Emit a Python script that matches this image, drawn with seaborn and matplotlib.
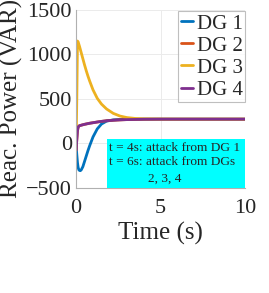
import matplotlib.pyplot as plt
import matplotlib.patches as mpatches
import seaborn as sns
import pandas as pd

# time axis (s) and reactive power of each DG (VAR)
t = [0, 0.04, 0.08, 0.12, 0.16, 0.2, 0.25, 0.3, 0.4, 0.5, 0.6, 0.7, 0.8, 1.0, 1.25,
     1.5, 1.8, 2.2, 2.6, 3.0, 3.5, 4.0, 5.0, 6.0, 8.0, 10.0]
dg1 = [-30, -130, -220, -275, -300, -308, -310, -302, -265, -205, -145, -85, -30, 70, 160,
       215, 248, 262, 267, 269, 270, 270, 270, 270, 270, 270]
dg2 = [-80, 40, 140, 180, 192, 196, 199, 202, 207, 212, 216, 220, 224, 230, 238,
       245, 252, 258, 262, 265, 267, 269, 270, 270, 270, 270]
dg3 = [0, 500, 1150, 1140, 1115, 1090, 1055, 1020, 950, 880, 815, 755, 700, 600, 505,
       440, 385, 335, 305, 288, 278, 274, 271, 270, 270, 270]
dg4 = [-80, 40, 140, 180, 192, 196, 199, 202, 207, 212, 216, 220, 224, 230, 238,
       245, 252, 258, 262, 265, 267, 269, 270, 270, 270, 270]

names = ['DG 1', 'DG 2', 'DG 3', 'DG 4']
colors = ['#0072BD', '#D95319', '#EDB120', '#7E2F8E']

df = pd.DataFrame({'Time': t * 4,
                   'Power': dg1 + dg2 + dg3 + dg4,
                   'DG': [n for n in names for _ in t]})

sns.set_style('white')
plt.rcParams['font.family'] = ['Liberation Serif', 'DejaVu Serif']

fig = plt.figure(figsize=(2.69, 2.93), dpi=100)
ax = fig.add_axes([0.283, 0.36, 0.628, 0.606])

sns.lineplot(data=df, x='Time', y='Power', hue='DG', palette=colors,
             linewidth=2, ax=ax, sort=False)

ax.set_xlim(0, 10)
ax.set_ylim(-500, 1500)
ax.set_xticks([0, 5, 10])
ax.set_yticks([-500, 0, 500, 1000, 1500])
ax.grid(True, color='#ebebeb', linewidth=0.7)
ax.tick_params(labelsize=16, length=0, colors='#262626')
ax.tick_params(axis='x', pad=8)
ax.tick_params(axis='y', pad=3)
ax.set_xlabel('Time (s)', fontsize=18, color='#262626', labelpad=3)
ax.set_ylabel('Reac. Power (VAR)', fontsize=18, color='#262626', labelpad=2)
for s in ['top', 'right']:
    ax.spines[s].set_visible(False)
for s in ['left', 'bottom']:
    ax.spines[s].set_color('#b0b0b0')
    ax.spines[s].set_linewidth(0.8)

leg = ax.legend(loc='lower right', bbox_to_anchor=(1.0, 0.48), fontsize=15,
                handlelength=0.6, handletextpad=0.15, labelspacing=0.12,
                borderpad=0.12, borderaxespad=0.0, frameon=True, fancybox=False)
leg.get_frame().set_edgecolor('#b0b0b0')
leg.get_frame().set_linewidth(0.8)

# annotation box
ax.add_patch(mpatches.Rectangle((0.183, 0.0), 0.817, 0.273, transform=ax.transAxes,
                                facecolor='#00ffff', edgecolor='none', zorder=5))
ax.text(0.195, 0.183, 't = 4s: attack from DG 1\nt = 6s: attack from DGs',
        transform=ax.transAxes, fontsize=9.6, va='center', ha='left',
        linespacing=1.3, zorder=6)
ax.text(0.425, 0.047, '2, 3, 4', transform=ax.transAxes, fontsize=9.6,
        va='center', ha='left', zorder=6)

fig.savefig('out.png', dpi=100)
